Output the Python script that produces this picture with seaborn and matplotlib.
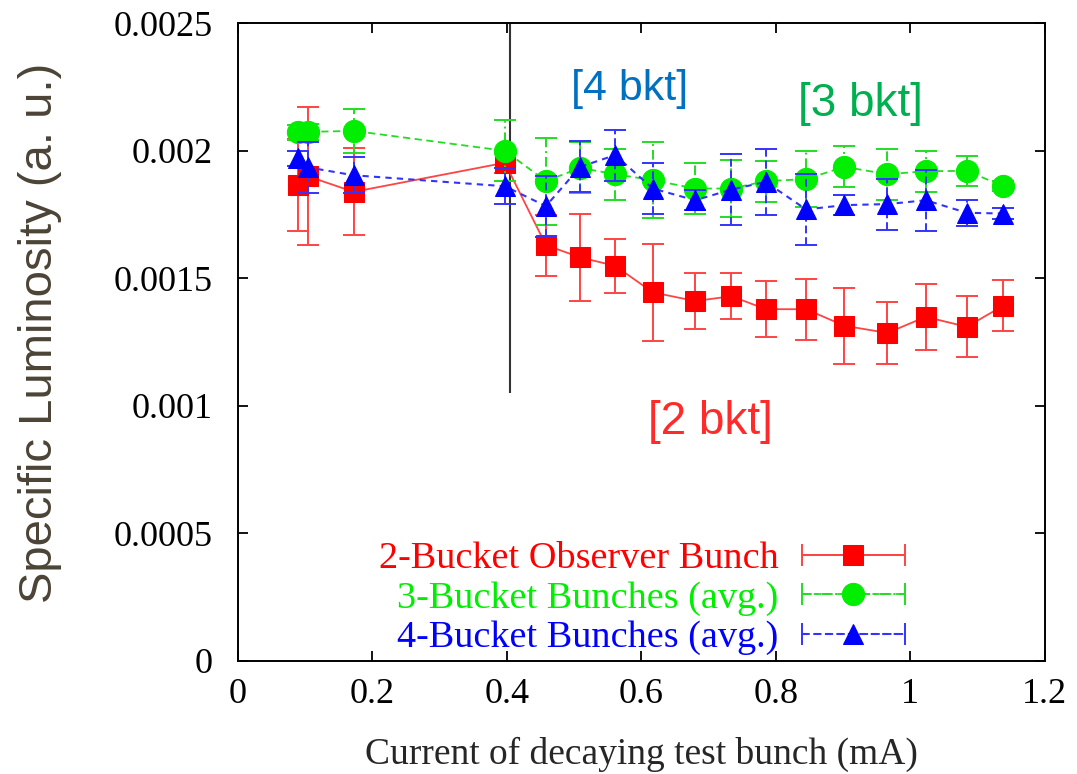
import matplotlib
matplotlib.use("Agg")
import matplotlib.pyplot as plt
import seaborn as sns
import numpy as np
from matplotlib.container import ErrorbarContainer
from matplotlib.legend_handler import HandlerErrorbar

# Test-bunch current (mA)
current = [0.089, 0.104, 0.172, 0.397, 0.458, 0.509, 0.561, 0.617, 0.680,
           0.734, 0.785, 0.845, 0.902, 0.966, 1.023, 1.084, 1.138]

# 2-bucket observer bunch
lum_2bkt = [1.865e-3, 1.900e-3, 1.839e-3, 1.953e-3, 1.630e-3, 1.582e-3, 1.549e-3,
            1.445e-3, 1.411e-3, 1.430e-3, 1.379e-3, 1.379e-3, 1.314e-3, 1.286e-3,
            1.349e-3, 1.310e-3, 1.392e-3]
err_2bkt = [1.8e-4, 2.7e-4, 1.7e-4, 4e-5, 1.2e-4, 1.7e-4, 1.05e-4, 1.9e-4, 1.1e-4,
            9e-5, 1.1e-4, 1.2e-4, 1.5e-4, 1.2e-4, 1.3e-4, 1.2e-4, 1.0e-4]

# 3-bucket bunches (average)
lum_3bkt = [2.072e-3, 2.074e-3, 2.078e-3, 2.000e-3, 1.881e-3, 1.933e-3, 1.908e-3,
            1.885e-3, 1.852e-3, 1.852e-3, 1.881e-3, 1.889e-3, 1.937e-3, 1.908e-3,
            1.920e-3, 1.921e-3, 1.862e-3]
err_3bkt = [3e-5, 3e-5, 8.5e-5, 1.2e-4, 1.7e-4, 1.0e-4, 1.0e-4, 1.5e-4, 1.0e-4,
            1.1e-4, 8e-5, 1.1e-4, 8e-5, 1.0e-4, 8e-5, 6e-5, 2e-5]

# 4-bucket bunches (average)
lum_4bkt = [1.970e-3, 1.935e-3, 1.904e-3, 1.861e-3, 1.783e-3, 1.937e-3, 1.983e-3,
            1.852e-3, 1.806e-3, 1.848e-3, 1.878e-3, 1.770e-3, 1.787e-3, 1.791e-3,
            1.806e-3, 1.757e-3, 1.754e-3]
err_4bkt = [3e-5, 1.0e-4, 7e-5, 7e-5, 1.2e-4, 1.0e-4, 1.0e-4, 1.0e-4, 4e-5,
            1.4e-4, 1.3e-4, 1.4e-4, 4e-5, 1.0e-4, 1.2e-4, 5e-5, 2e-5]

labels = ["2-Bucket Observer Bunch", "3-Bucket Bunches (avg.)", "4-Bucket Bunches (avg.)"]
x_ticks = [0, 0.2, 0.4, 0.6, 0.8, 1.0, 1.2]
y_ticks = [0, 0.0005, 0.001, 0.0015, 0.002, 0.0025]

# Divider marking the start of the decay scan
divider_x = 0.405
divider_ymin = 0.00105

sns.set_style("ticks")
plt.rcParams["font.family"] = ["Liberation Serif", "DejaVu Serif"]

fig = plt.figure(figsize=(10.77, 7.74), dpi=100)
ax = fig.add_axes([0.221, 0.146, 0.749, 0.824])

series = [
    dict(y=lum_2bkt, e=err_2bkt, marker="s", ms=14, color="#FF0000", lcolor="#FF4444",
         ls="-", els="-", lw=1.3, z=3),
    dict(y=lum_3bkt, e=err_3bkt, marker="o", ms=16, color="#00EE00", lcolor="#22DD22",
         ls=(0, (4, 2.5)), els=(0, (5, 2, 1, 2)), lw=1.3, z=4),
    dict(y=lum_4bkt, e=err_4bkt, marker="^", ms=15, color="#0000FF", lcolor="#3333FF",
         ls=(0, (3, 2.5)), els=(0, (4, 2)), lw=1.5, z=5),
]

proxies = []
for s, lab in zip(series, labels):
    eb = ax.errorbar(current, s["y"], yerr=s["e"], fmt="none", ecolor=s["lcolor"],
                     elinewidth=1.4, capsize=8, capthick=1.4, zorder=s["z"] - 0.5)
    eb[2][0].set_linestyle(s["els"])
    sns.lineplot(x=current, y=s["y"], ax=ax, sort=False, estimator=None,
                 color=s["lcolor"], linestyle=s["ls"], linewidth=s["lw"],
                 marker=s["marker"], markersize=s["ms"], markerfacecolor=s["color"],
                 markeredgecolor=s["color"], zorder=s["z"])
    line = ax.lines[-1]
    proxies.append(ErrorbarContainer((line, eb[1], eb[2]), has_xerr=True,
                                     has_yerr=False, label=lab))

ax.vlines(divider_x, divider_ymin, 0.0025, color="#333333", linewidth=1.5, zorder=2)

# Bucket annotations
ax.text(0.583, 0.002241, "[4 bkt]", color="#0070C0", fontsize=31,
        family=["Liberation Sans"], ha="center", va="center")
ax.text(0.926, 0.002183, "[3 bkt]", color="#00B050", fontsize=33,
        family=["Liberation Sans"], ha="center", va="center")
ax.text(0.7026, 0.000938, "[2 bkt]", color="#FF2A2A", fontsize=33,
        family=["Liberation Sans"], ha="center", va="center")

ax.set_xlim(0, 1.2)
ax.set_ylim(0, 0.0025)
ax.set_xticks(x_ticks)
ax.set_yticks(y_ticks)
ax.set_xticklabels([f"{v:g}" for v in x_ticks])
ax.set_yticklabels([f"{v:g}" for v in y_ticks])
ax.tick_params(direction="in", length=7, width=1.3, top=True, right=True,
               labelsize=26, colors="black")
ax.tick_params(axis="x", pad=12)
ax.tick_params(axis="y", pad=18)
for sp in ax.spines.values():
    sp.set_linewidth(1.4)
    sp.set_color("black")

ax.set_xlabel("Current of decaying test bunch (mA)", fontsize=27, labelpad=19)
ax.set_ylabel("Specific Luminosity (a. u.)", fontsize=34, color="#4B4436",
              family=["Liberation Sans"], va="center")
ax.yaxis.set_label_coords(-0.245, 0.514)

hl = 2.7
leg = ax.legend(handles=proxies, loc="center right",
                bbox_to_anchor=(0.8265, 0.098), frameon=False, fontsize=27.5,
                markerfirst=False, handlelength=hl, handletextpad=0.6,
                labelspacing=0.12, borderpad=0, borderaxespad=0,
                labelcolor=["#FF0000", "#00EE00", "#0000FF"],
                handler_map={ErrorbarContainer: HandlerErrorbar(xerr_size=hl / 2, numpoints=1)})

fig.savefig("out.png", dpi=100)
